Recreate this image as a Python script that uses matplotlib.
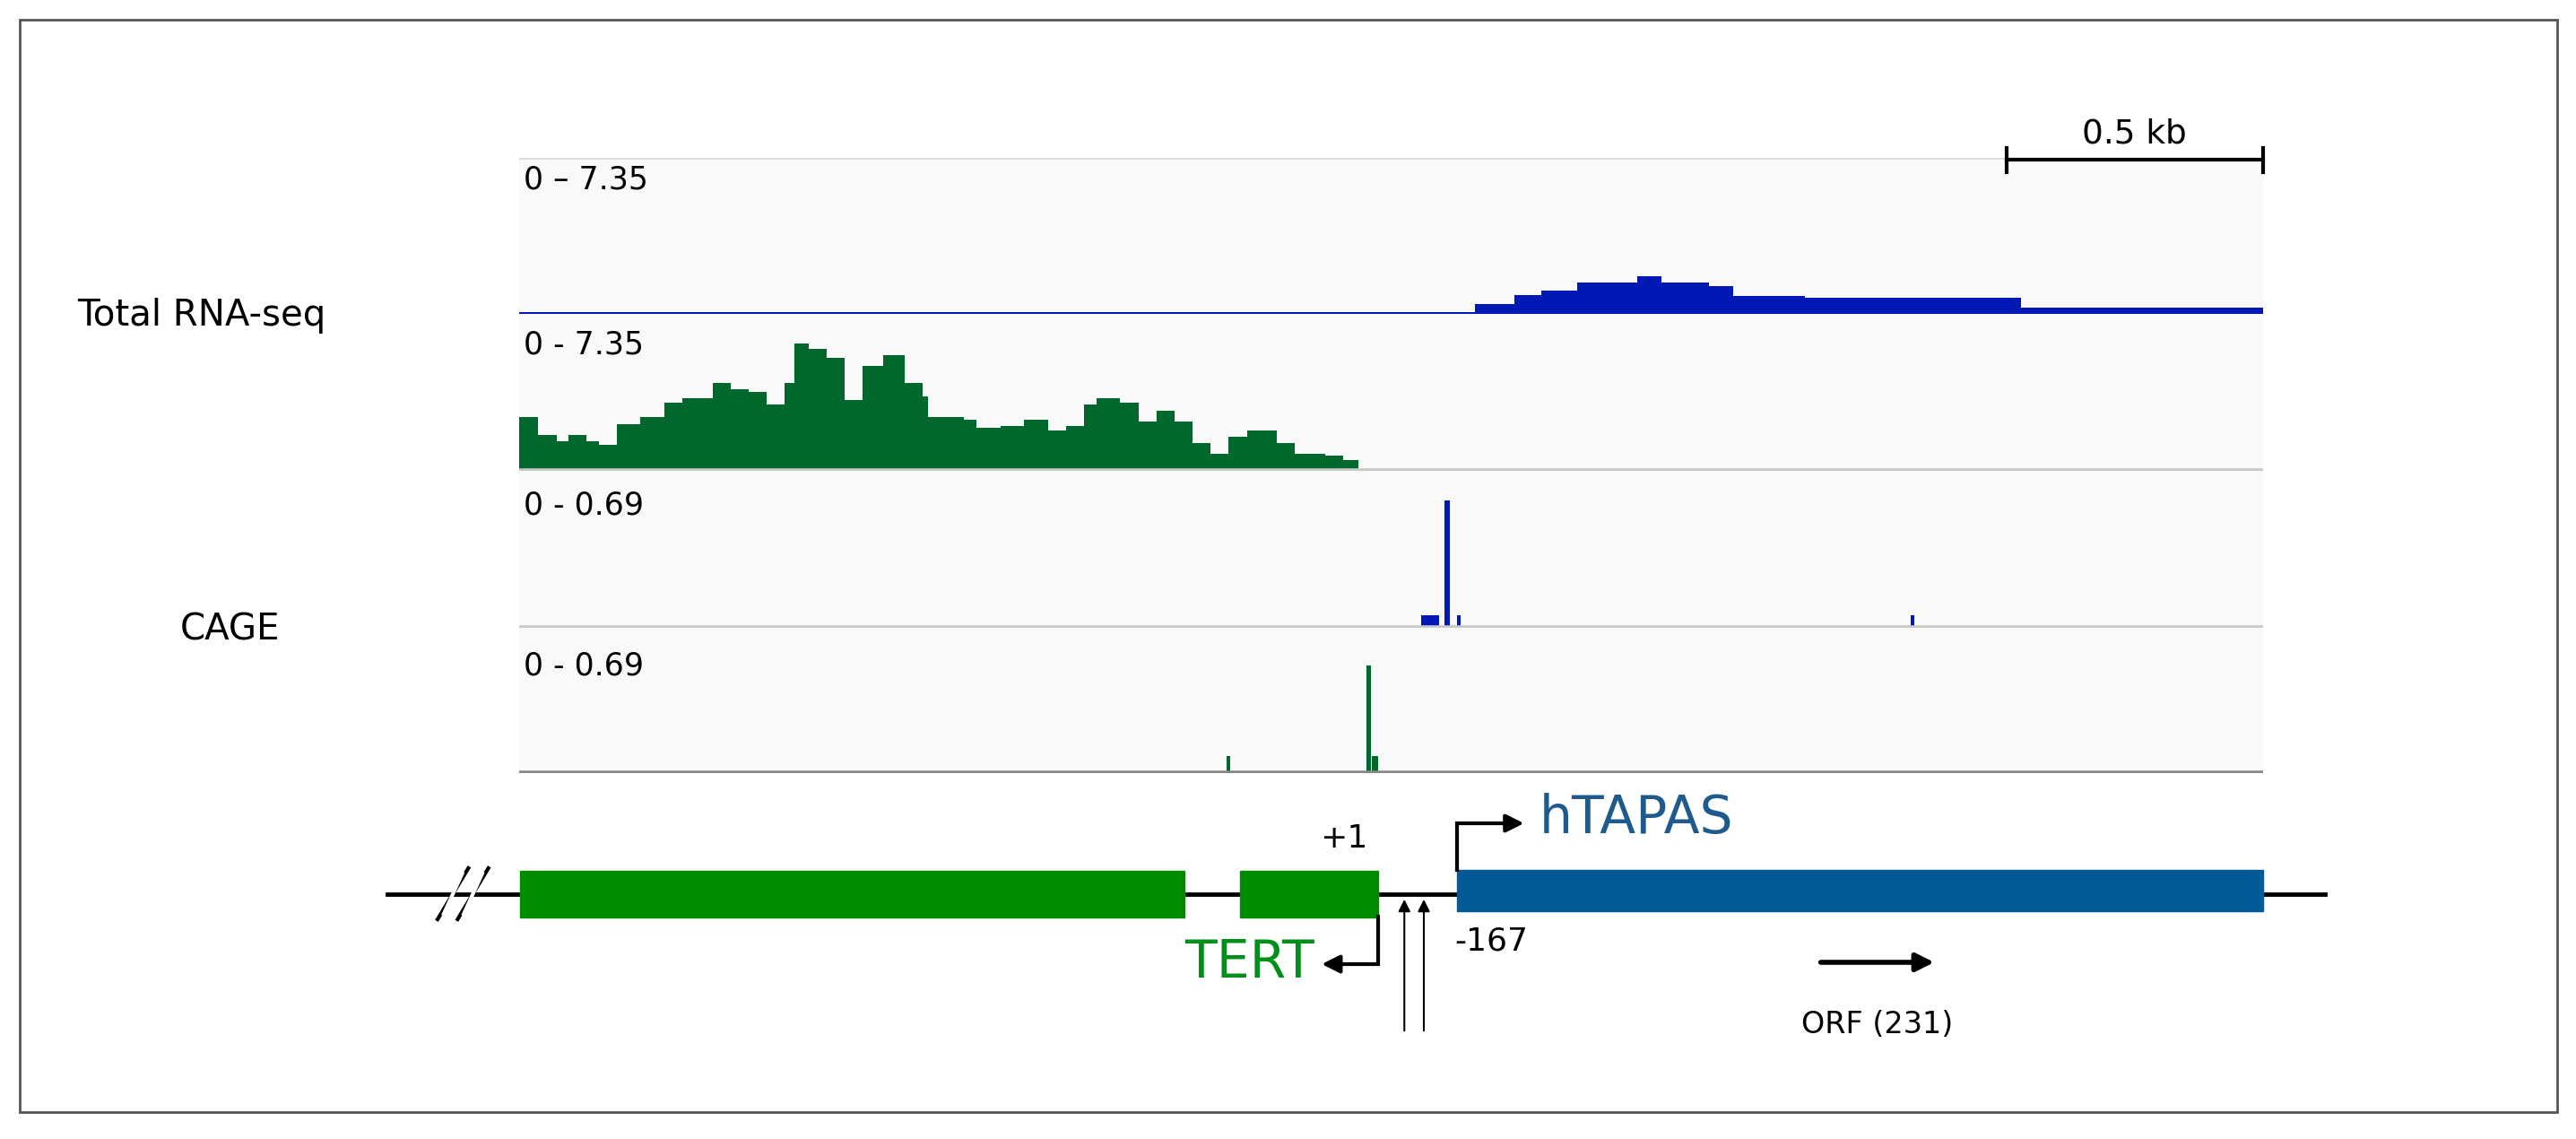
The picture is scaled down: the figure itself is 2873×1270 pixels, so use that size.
import matplotlib

matplotlib.use("Agg")

import matplotlib.pyplot as plt  # noqa: E402
from matplotlib.patches import Rectangle  # noqa: E402

_BLUE = "#0019b4"
_GREEN = "#00682c"
_EXON_GREEN = "#008c00"
_EXON_BLUE = "#045a96"
_TEXT_BLUE = "#1f5a8c"
_TEXT_GREEN = "#00901a"

W, H = 2873, 1270
REGION = 3400  # bp shown in the tracks
PX_PER_BP = 0.572
TRACK_LEFT = 579

# Total RNA-seq coverage (step starts in bp, values)
rna_blue_pos = [0, 1864, 1941, 1993, 2063, 2180, 2227, 2320, 2367, 2507, 2928]
rna_blue_val = [0.1, 0.46, 0.88, 1.1, 1.47, 1.76, 1.47, 1.32, 0.85, 0.74, 0.3]

rna_green_pos = [0, 37, 73, 96, 131, 155, 190, 236, 283, 318, 377, 412, 447, 482,
                 517, 536, 564, 599, 634, 669, 709, 751, 786, 798, 868, 892, 938,
                 985, 1032, 1067, 1102, 1126, 1172, 1208, 1243, 1278, 1313, 1348,
                 1383, 1419, 1477, 1512, 1571, 1606, 1636]
rna_green_val = [2.5, 1.7, 1.4, 1.7, 1.4, 1.2, 2.2, 2.5, 3.2, 3.4, 4.11, 3.81, 3.71,
                 3.1, 4.11, 5.95, 5.71, 5.31, 3.3, 4.91, 5.41, 4.11, 3.5, 2.5, 2.4,
                 2.0, 2.1, 2.4, 1.9, 2.1, 3.1, 3.4, 3.2, 2.3, 2.8, 2.3, 1.3, 0.8,
                 1.6, 1.9, 1.3, 0.8, 0.7, 0.5, 0.1]

# CAGE peaks (bp start, width, value)
cage_blue_pos = [1758, 1804, 1828, 2713]
cage_blue_w = [35, 10, 8, 8]
cage_blue_val = [0.057, 0.56, 0.057, 0.057]
cage_green_pos = [1379, 1652, 1662]
cage_green_w = [8, 8, 12]
cage_green_val = [0.08, 0.51, 0.08]

# gene model (bp)
tert_exons = [(2, 1297), (1406, 1675)]
htapas_exon = (1829, 3400)
cage_tss = [1726, 1764]
orf_arrow = (2533, 2764)

fig = plt.figure(figsize=(W / 100, H / 100), dpi=100)

# overlay axes in pixel coordinates for frame and side labels
ov = fig.add_axes([0, 0, 1, 1])
ov.set_xlim(0, W)
ov.set_ylim(H, 0)
ov.axis("off")
ov.add_patch(Rectangle((22, 22), 2830, 1218, fill=False, ec="#555555", lw=2))
ov.text(86, 352, "Total RNA-seq", fontsize=29, va="center")
ov.text(201, 703, "CAGE", fontsize=29, va="center")


def track_axes(top, bottom):
    ax = fig.add_axes([TRACK_LEFT / W, 1 - bottom / H,
                       REGION * PX_PER_BP / W, (bottom - top) / H])
    ax.set_facecolor("#f9f9f9")
    ax.set_xlim(0, REGION)
    for s in ax.spines.values():
        s.set_visible(False)
    ax.set_xticks([])
    ax.set_yticks([])
    return ax


def coverage(ax, pos, val, color):
    xs = pos + [REGION if color == _BLUE else pos[-1] + 10]
    ys = val + [val[-1]]
    ax.fill_between(xs, 0, ys, step="post", color=color, lw=0)


ax1 = track_axes(176, 350)
ax1.set_ylim(0, 7.35)
coverage(ax1, rna_blue_pos, rna_blue_val, _BLUE)
ax1.axhline(7.35, color="#dddddd", lw=3)
ax1.text(8, 7.35 * 0.86, "0 \u2013 7.35", fontsize=25, va="center")

ax2 = track_axes(350, 525)
ax2.set_ylim(0, 7.35)
coverage(ax2, rna_green_pos, rna_green_val, _GREEN)
ax2.axhline(0, color="#c8c8c8", lw=4)
ax2.text(8, 7.35 * 0.8, "0 - 7.35", fontsize=25, va="center")

ax3 = track_axes(525, 700)
ax3.set_ylim(0, 0.69)
ax3.bar(cage_blue_pos, cage_blue_val, width=cage_blue_w, align="edge", color=_BLUE)
ax3.axhline(0, color="#c8c8c8", lw=4)
ax3.text(8, 0.69 * 0.78, "0 - 0.69", fontsize=25, va="center")

ax4 = track_axes(700, 862)
ax4.set_ylim(0, 0.69)
ax4.bar(cage_green_pos, cage_green_val, width=cage_green_w, align="edge", color=_GREEN)
ax4.axhline(0, color="#888888", lw=4)
ax4.text(8, 0.69 * 0.74, "0 - 0.69", fontsize=25, va="center")

# gene model axes: bp on x, pixel rows on y
g = fig.add_axes([0, 0, 1, 1])
g.set_xlim(-TRACK_LEFT / PX_PER_BP, (W - TRACK_LEFT) / PX_PER_BP)
g.set_ylim(H, 0)
g.axis("off")

# scale bar 0.5 kb
g.plot([REGION - 500, REGION], [178, 178], color="black", lw=3)
for x in (REGION - 500, REGION):
    g.plot([x, x], [165, 192], color="black", lw=3)
g.text(REGION - 250, 150, "0.5 kb", fontsize=27, ha="center", va="center")

g.plot([-257, 3521], [997, 997], color="black", lw=3.5, zorder=1)
for x0 in (-159, -120):
    g.plot([x0, x0 + 60], [1025, 968], color="black", lw=3, zorder=3)
    g.plot([x0 + 12, x0 + 48], [1019, 974], color="white", lw=3, zorder=3)
for a, b in tert_exons:
    g.add_patch(Rectangle((a, 971), b - a, 52, color=_EXON_GREEN, zorder=2))
g.add_patch(Rectangle((htapas_exon[0], 970), htapas_exon[1] - htapas_exon[0], 46,
                      color=_EXON_BLUE, zorder=2))

# hTAPAS TSS arrow
g.plot([htapas_exon[0], htapas_exon[0]], [970, 918], color="black", lw=3)
g.annotate("", xy=(htapas_exon[0] + 135, 918), xytext=(htapas_exon[0] - 3, 918),
           arrowprops=dict(arrowstyle="-|>", color="black", lw=3, mutation_scale=30))
g.text(htapas_exon[0] + 160, 913, "hTAPAS", fontsize=42, color=_TEXT_BLUE, va="center")

# TERT TSS arrow
tss = tert_exons[1][1]
g.text(tss - 20, 935, "+1", fontsize=26, ha="right", va="center")
g.plot([tss, tss], [1022, 1075], color="black", lw=3)
g.annotate("", xy=(tss - 115, 1075), xytext=(tss + 3, 1075),
           arrowprops=dict(arrowstyle="-|>", color="black", lw=3, mutation_scale=30))
g.text(tss - 125, 1073, "TERT", fontsize=42, color=_TEXT_GREEN, ha="right", va="center")

# CAGE TSS arrows
for x in cage_tss:
    g.annotate("", xy=(x, 1000), xytext=(x, 1152),
               arrowprops=dict(arrowstyle="-|>", color="black", lw=1.5, mutation_scale=20))
g.text(htapas_exon[0] - 5, 1050, "-167", fontsize=26, va="center")

# ORF arrow
g.annotate("", xy=(orf_arrow[1], 1073), xytext=(orf_arrow[0], 1073),
           arrowprops=dict(arrowstyle="-|>", color="black", lw=4, mutation_scale=30))
g.text(sum(orf_arrow) / 2, 1143, "ORF (231)", fontsize=24, ha="center", va="center")

fig.savefig("out.png", dpi=100)
